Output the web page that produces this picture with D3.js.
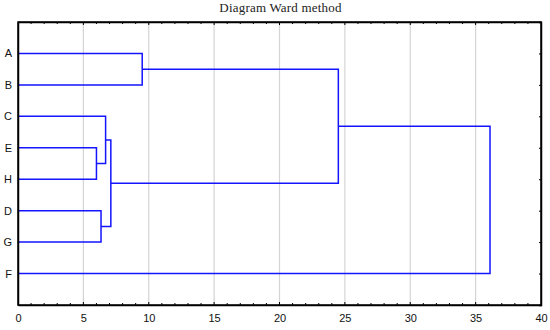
<!DOCTYPE html>
<html>
<head>
<meta charset="utf-8">
<script src="https://cdn.jsdelivr.net/npm/d3@7"></script>
<style>
  body { margin: 0; background: #fff; }
  svg { display: block; }
</style>
</head>
<body>
<div class="chart"></div>
<script>
'use strict';

// leaves, top to bottom
const leaves = ['A', 'B', 'C', 'E', 'H', 'D', 'G', 'F'];
// merges: [left child, right child, linkage distance]
const mergeLeft = ['A', 'E', 'C', 'D', 'C+E+H', 'A+B', 'A+B+C+E+H+D+G'];
const mergeRight = ['B', 'H', 'E+H', 'G', 'D+G', 'C+E+H+D+G', 'F'];
const mergeHeight = [9.5, 6.0, 6.7, 6.35, 7.1, 24.5, 36.1];
const xTicks = [0, 5, 10, 15, 20, 25, 30, 35, 40];

const FULL_WIDTH = 550;
const FULL_HEIGHT = 330;
const margin = { top: 22, right: 9, bottom: 25, left: 18 };
const WIDTH = FULL_WIDTH - margin.left - margin.right;
const HEIGHT = FULL_HEIGHT - margin.top - margin.bottom;

const svg = d3.select('.chart')
  .append('svg')
    .attr('width', FULL_WIDTH)
    .attr('height', FULL_HEIGHT)
  .append('g')
    .attr('transform', 'translate(' + margin.left + ',' + margin.top + ')');

const x = d3.scaleLinear()
  .domain([0, 40])
  .range([0, WIDTH]);

const y = d3.scaleLinear()
  .domain([0, leaves.length + 1])
  .range([0, HEIGHT]);

// title
svg.append('text')
  .attr('x', WIDTH / 2 + 1)
  .attr('y', -10)
  .attr('text-anchor', 'middle')
  .attr('font-family', 'Liberation Serif, serif')
  .attr('font-size', '13px')
  .attr('letter-spacing', '0.2px')
  .attr('fill', '#222')
  .text('Diagram Ward method');

// grid
svg.selectAll('.grid')
  .data(xTicks.slice(1, -1))
  .enter()
  .append('line')
  .attr('class', 'grid')
  .attr('x1', (d) => x(d))
  .attr('x2', (d) => x(d))
  .attr('y1', 0)
  .attr('y2', HEIGHT)
  .attr('stroke', '#d4d4d4')
  .attr('stroke-width', 1.2);

// node positions
const nodes = {};
leaves.forEach((name, i) => {
  nodes[name] = { x: 0, y: i + 1 };
});

const links = [];
mergeLeft.forEach((a, i) => {
  const b = mergeRight[i];
  const h = mergeHeight[i];
  const na = nodes[a];
  const nb = nodes[b];
  links.push([[na.x, na.y], [h, na.y], [h, nb.y], [nb.x, nb.y]]);
  nodes[a + '+' + b] = { x: h, y: (na.y + nb.y) / 2 };
});

const line = d3.line()
  .x((d) => x(d[0]))
  .y((d) => y(d[1]));

svg.selectAll('.link')
  .data(links)
  .enter()
  .append('path')
  .attr('class', 'link')
  .attr('d', line)
  .attr('fill', 'none')
  .attr('stroke', '#1414ff')
  .attr('stroke-width', 1.5);

// axes
const bottomAxis = svg.append('g')
  .attr('transform', 'translate(0,' + HEIGHT + ')')
  .call(d3.axisBottom(x).tickValues(xTicks).tickSize(0).tickPadding(9));

const topAxis = svg.append('g')
  .call(d3.axisTop(x).tickValues(xTicks).tickSize(0).tickFormat(''));

const minor = d3.range(1, 40);

svg.selectAll('.tick-bottom')
  .data(minor)
  .enter()
  .append('line')
  .attr('x1', (d) => x(d))
  .attr('x2', (d) => x(d))
  .attr('y1', HEIGHT)
  .attr('y2', (d) => HEIGHT - (d % 5 === 0 ? 3 : 2))
  .attr('stroke', '#000');

svg.selectAll('.tick-top')
  .data(minor)
  .enter()
  .append('line')
  .attr('x1', (d) => x(d))
  .attr('x2', (d) => x(d))
  .attr('y1', 0)
  .attr('y2', (d) => (d % 5 === 0 ? 3 : 2))
  .attr('stroke', '#000');

const leftAxis = svg.append('g')
  .call(d3.axisLeft(y)
    .tickValues(leaves.map((d, i) => i + 1))
    .tickFormat((d) => leaves[d - 1])
    .tickSize(0)
    .tickPadding(6));

svg.append('g')
  .attr('transform', 'translate(' + WIDTH + ',0)')
  .call(d3.axisLeft(y)
    .tickValues(leaves.map((d, i) => i + 1))
    .tickFormat('')
    .tickSize(2));

[bottomAxis, topAxis, leftAxis].forEach((g) => {
  g.selectAll('text')
    .attr('font-family', 'Liberation Sans, Arial, sans-serif')
    .attr('font-size', '11px')
    .attr('fill', '#111');
});

svg.selectAll('.domain')
  .attr('stroke', '#000')
  .attr('stroke-width', 1.5);

svg.append('rect')
  .attr('width', WIDTH)
  .attr('height', HEIGHT)
  .attr('fill', 'none')
  .attr('stroke', '#000')
  .attr('stroke-width', 1.5);
</script>
</body>
</html>
